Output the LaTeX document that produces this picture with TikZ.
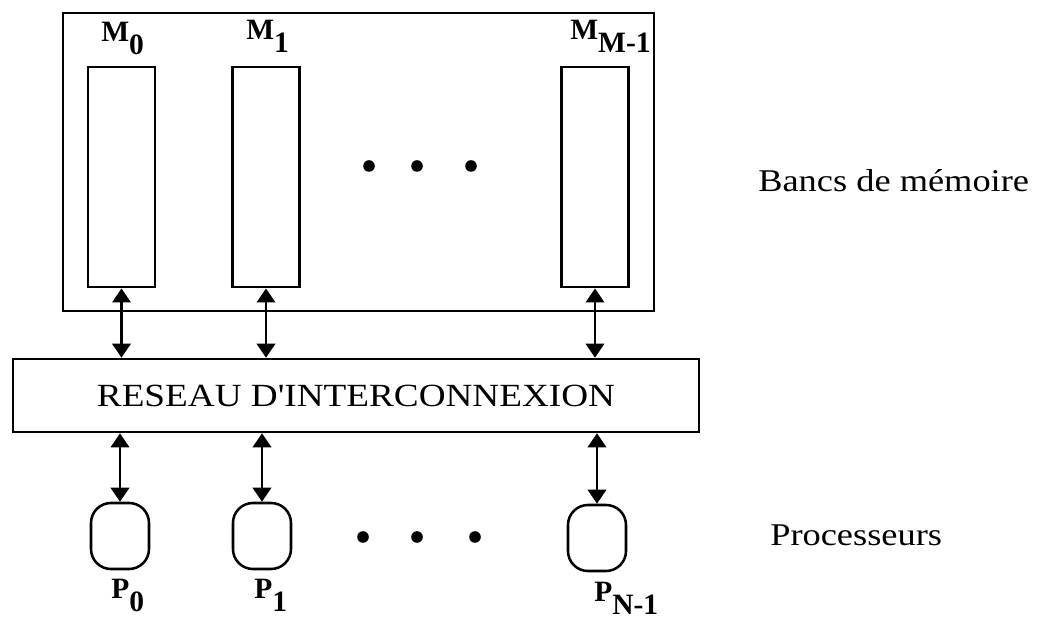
\documentclass[tikz,border=0pt]{standalone}
\usepackage{fontspec}
\setmainfont{Liberation Serif}
\newfontfamily\widefont[FakeStretch=1.15]{Liberation Serif}
\usepackage{tikz}
\usetikzlibrary{arrows.meta, positioning, calc}
\tikzset{
  bank/.style={rectangle, draw=black, line width=2pt, minimum width=1.675cm,
               minimum height=5.5cm, inner sep=0pt},
  frame/.style={rectangle, draw=black, line width=1.8pt, minimum width=14.775cm,
                minimum height=7.45cm, inner sep=0pt},
  network/.style={rectangle, draw=black, line width=1.8pt, minimum width=17.15cm,
                  minimum height=1.825cm, inner sep=0pt,
                  font=\widefont\fontsize{23}{27}\selectfont},
  proc/.style={rectangle, draw=black, line width=1.8pt, rounded corners=0.5cm,
               minimum width=1.45cm, minimum height=1.65cm, inner sep=0pt},
  link/.style={{Triangle[length=10pt, width=13pt]}-{Triangle[length=10pt, width=13pt]},
               draw=black, line width=2pt},
  tag/.style={font=\bfseries\fontsize{21}{24}\selectfont, anchor=base west, inner sep=0pt},
  side/.style={font=\widefont\fontsize{22.5}{27}\selectfont, anchor=west, inner sep=0pt},
}
\newcommand{\lowsub}[1]{\raisebox{-9pt}{#1}}

\begin{document}
\begin{tikzpicture}[x=0.025cm, y=0.025cm,
  dot/.style={circle, fill=black, inner sep=0pt, minimum size=0.29cm}
]
  \useasboundingbox (0,0) rectangle (1041,619);

  % memory banks inside their frame
  \node[frame] (banks) at (358.5,457) {};
  \node[bank] (m0) at (121.5,442) {};
  \node[bank] (m1) at (266,442) {};
  \node[bank] (mlast) at (595,442) {};

  \node[tag] (lm0) at (101,577) {M\lowsub{0}};
  \node[tag] (lm1) at (246,579) {M\lowsub{1}};
  \node[tag] (lmlast) at (570,579) {M\lowsub{M-1}};

  \node[dot] (d1) at (369,453) {};
  \node[dot] (d2) at (417,453) {};
  \node[dot] (d3) at (471,453) {};

  \node[network] (net) at (356,223.5) {RESEAU D'INTERCONNEXION};

  \node[proc] (p0) at (120,83) {};
  \node[proc] (p1) at (262,83) {};
  \node[proc] (plast) at (597,81) {};

  \node[tag] (lp0) at (111,20) {P\lowsub{0}};
  \node[tag] (lp1) at (254,20) {P\lowsub{1}};
  \node[tag] (lplast) at (594,17) {P\lowsub{N-1}};

  \node[dot] (e1) at (363,82) {};
  \node[dot] (e2) at (417,82) {};
  \node[dot] (e3) at (475,82) {};

  \draw[link] (m0) -- (m0 |- net.north);
  \draw[link] (m1) -- (m1 |- net.north);
  \draw[link] (mlast) -- (mlast |- net.north);
  \draw[link] (net.south -| p0) -- (p0);
  \draw[link] (net.south -| p1) -- (p1);
  \draw[link] (net.south -| plast) -- (plast);

  \node[side] (lbanks) at (758,438) {Bancs de mémoire};
  \node[side] (lprocs) at (770,84) {Processeurs};
\end{tikzpicture}
\end{document}
